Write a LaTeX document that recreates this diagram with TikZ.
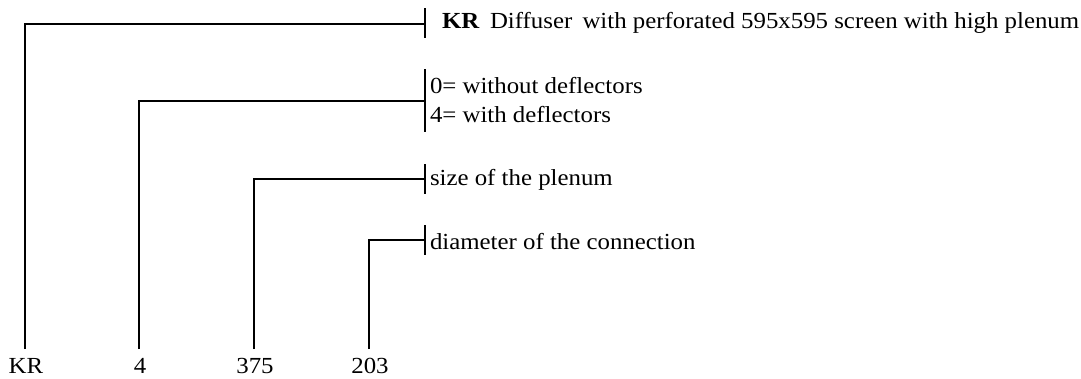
\documentclass[tikz,border=0pt]{standalone}
\usepackage{fontspec}
\setmainfont[FakeStretch=1.08]{Liberation Serif}
\begin{document}
\begin{tikzpicture}[x=1pt,y=-1pt,line width=2pt,
  lbl/.style={inner sep=0pt,anchor=base,font=\fontsize{23}{27}\selectfont},
  desc/.style={inner sep=0pt,anchor=base west,font=\fontsize{23}{27}\selectfont},
  tick/.style={line width=2pt}]
\useasboundingbox (0,0) rectangle (1081,378);
% bottom labels
\node[lbl] (kr)  at (26,373)  {KR};
\node[lbl] (four) at (140,373) {4};
\node[lbl] (tfs) at (255,373) {375};
\node[lbl] (tzt) at (370,373) {203};
% line bottom ends
\coordinate (e1) at (25,349);
\coordinate (e2) at (139,349);
\coordinate (e3) at (254,349);
\coordinate (e4) at (369,349);
% tick points
\coordinate (t1) at (425,24);
\coordinate (t1a) at (425,8);   \coordinate (t1b) at (425,38);
\coordinate (t2) at (425,100.7);
\coordinate (t2a) at (425,69);  \coordinate (t2b) at (425,132);
\coordinate (t3) at (425,179.3);
\coordinate (t3a) at (425,164); \coordinate (t3b) at (425,194);
\coordinate (t4) at (425,240);
\coordinate (t4a) at (425,225); \coordinate (t4b) at (425,255);
% descriptions
\node[desc] (kb) at (441,28.7) {\textbf{KR}};
\node[desc] (d1) at (489,28.7) {Diffuser\hspace{4pt} with perforated 595x595 screen with high plenum};
\node[desc] (d2a) at (429,93) {0= without deflectors};
\node[desc] (d2b) at (429,122) {4= with deflectors};
\node[desc] (d3) at (429,185) {size of the plenum};
\node[desc] (d4) at (429,249) {diameter of the connection};
% ticks
\draw[tick] (t1a) -- (t1b);
\draw[tick] (t2a) -- (t2b);
\draw[tick] (t3a) -- (t3b);
\draw[tick] (t4a) -- (t4b);
% connectors
\draw (e1) |- (t1);
\draw (e2) |- (t2);
\draw (e3) |- (t3);
\draw (e4) |- (t4);
\end{tikzpicture}
\end{document}
